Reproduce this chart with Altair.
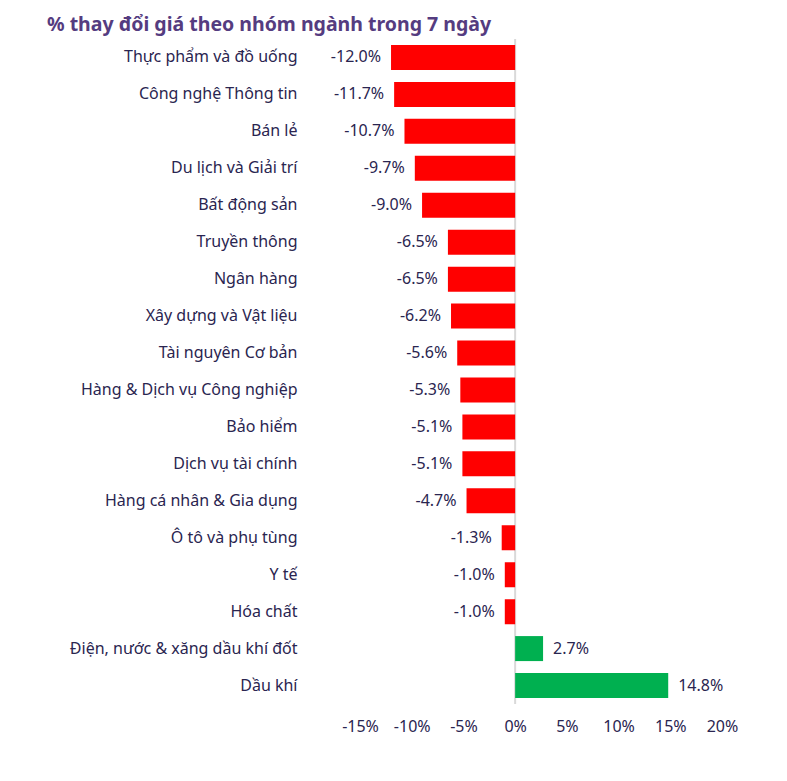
import altair as alt
import pandas as pd

categories = [
    "Thực phẩm và đồ uống", "Công nghệ Thông tin", "Bán lẻ", "Du lịch và Giải trí",
    "Bất động sản", "Truyền thông", "Ngân hàng", "Xây dựng và Vật liệu",
    "Tài nguyên Cơ bản", "Hàng & Dịch vụ Công nghiệp", "Bảo hiểm", "Dịch vụ tài chính",
    "Hàng cá nhân & Gia dụng", "Ô tô và phụ tùng", "Y tế", "Hóa chất",
    "Điện, nước & xăng dầu khí đốt", "Dầu khí",
]
values = [-12.0, -11.7, -10.7, -9.7, -9.0, -6.5, -6.5, -6.2, -5.6, -5.3, -5.1, -5.1,
          -4.7, -1.3, -1.0, -1.0, 2.7, 14.8]
tick_values = [-15, -10, -5, 0, 5, 10, 15, 20]

df = pd.DataFrame({"cat": categories, "val": values})
df["label"] = df["val"].map(lambda v: f"{v:.1f}%")
df["sign"] = df["val"].map(lambda v: "neg" if v < 0 else "pos")

FONT = "Noto Sans"
FS = 16
TXT = "#2A2550"

y_enc = alt.Y("cat:N", sort=categories, title=None,
              scale=alt.Scale(paddingInner=0.32, paddingOuter=0.16),
              axis=alt.Axis(labelFont=FONT, labelFontSize=FS, labelColor=TXT,
                            labelPadding=63, ticks=False, domain=False, grid=False, labelLimit=300))
x_enc = alt.X("val:Q", title=None,
              scale=alt.Scale(domain=[-15, 20], nice=False, zero=False),
              axis=alt.Axis(values=tick_values, labelExpr="datum.value + '%'",
                            labelFont=FONT, labelFontSize=FS, labelColor=TXT,
                            labelFlush=False, labelOverlap=False,
                            labelPadding=14, ticks=False, domain=False, grid=False))

base = alt.Chart(df)

bars = base.mark_bar(size=25).encode(
    y=y_enc, x=x_enc, x2=alt.datum(0),
    color=alt.Color("sign:N", scale=alt.Scale(domain=["neg", "pos"], range=["#FF0000", "#00B050"]), legend=None),
)

zero = alt.Chart(pd.DataFrame({"z": [0]})).mark_rule(color="#D9D9D9", strokeWidth=2).encode(
    x=alt.X("z:Q", scale=alt.Scale(domain=[-15, 20], nice=False, zero=False)),
)

neg_text = base.transform_filter("datum.val < 0").mark_text(
    align="right", baseline="middle", dx=-10, font=FONT, fontSize=FS, color=TXT
).encode(y=alt.Y("cat:N", sort=categories), x=alt.X("val:Q"), text="label:N")

pos_text = base.transform_filter("datum.val >= 0").mark_text(
    align="left", baseline="middle", dx=10, font=FONT, fontSize=FS, color=TXT
).encode(y=alt.Y("cat:N", sort=categories), x=alt.X("val:Q"), text="label:N")

chart = alt.layer(zero, bars, neg_text, pos_text).properties(
    width=362, height=665,
    background="white",
    title=alt.Title("% thay đổi giá theo nhóm ngành trong 7 ngày", anchor="start", frame="group",
                    dx=-313, offset=3, font=FONT, fontSize=19.5, fontWeight="bold", color="#553C80"),
    autosize=alt.AutoSizeParams(type="none"),
    padding={"left": 360, "top": 39, "right": 65, "bottom": 77},
).configure_view(stroke=None).configure_axis(grid=False)

chart.save("out.html", embed_options={"renderer": "svg", "actions": False})
